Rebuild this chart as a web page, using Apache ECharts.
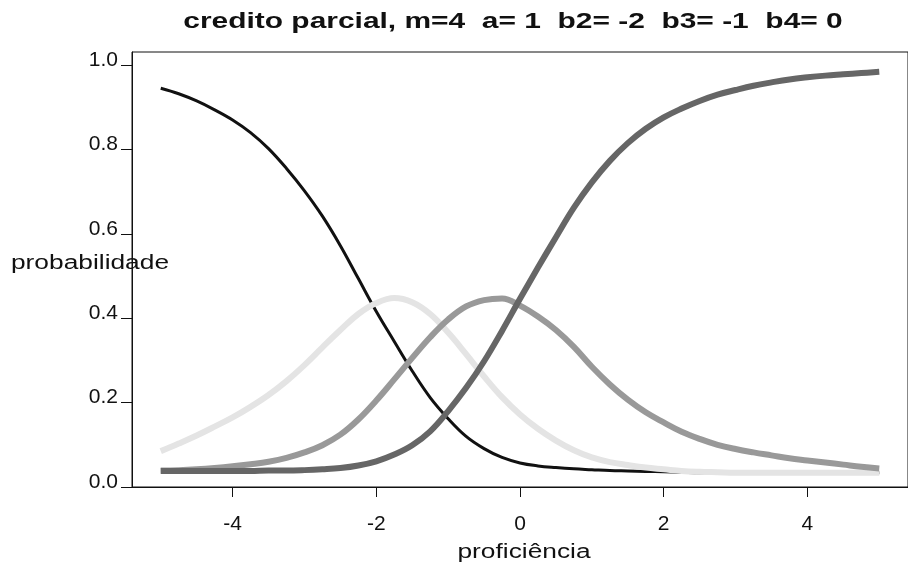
<!DOCTYPE html>
<html>
<head>
<meta charset="utf-8">
<script src="https://cdn.jsdelivr.net/npm/echarts@6/dist/echarts.min.js"></script>
<style>
    html, body { margin: 0; padding: 0; background: #fff; }
    #chart { width: 908px; height: 565px; }
</style>
</head>
<body>
<div id="chart"></div>
<script>
    // proficiencia (theta), passo 0.25
    const theta = [-5, -4.75, -4.5, -4.25, -4, -3.75, -3.5, -3.25, -3, -2.75, -2.5, -2.25, -2, -1.75, -1.5, -1.25, -1, -0.75, -0.5, -0.25,
        0, 0.25, 0.5, 0.75, 1, 1.25, 1.5, 1.75, 2, 2.25, 2.5, 2.75, 3, 3.25, 3.5, 3.75, 4, 4.25, 4.5, 4.75, 5];
    // categoria 1..4
    const cat1 = [0.945, 0.932, 0.915, 0.894, 0.870, 0.840, 0.802, 0.755, 0.702, 0.642, 0.572, 0.494, 0.416, 0.345, 0.275, 0.212, 0.162, 0.120, 0.091, 0.070,
        0.057, 0.050, 0.046, 0.043, 0.041, 0.039, 0.038, 0.037, 0.036, 0.035, 0.034, 0.034, 0.034, 0.034, 0.034, 0.034, 0.034, 0.034, 0.034, 0.034, 0.034];
    const cat2 = [0.085, 0.103, 0.122, 0.143, 0.165, 0.190, 0.218, 0.251, 0.289, 0.331, 0.372, 0.410, 0.436, 0.448, 0.438, 0.410, 0.366, 0.315, 0.262, 0.213,
        0.172, 0.138, 0.110, 0.087, 0.070, 0.059, 0.052, 0.046, 0.042, 0.038, 0.036, 0.035, 0.034, 0.034, 0.034, 0.034, 0.034, 0.034, 0.034, 0.034, 0.034];
    const cat3 = [0.039, 0.040, 0.042, 0.045, 0.049, 0.054, 0.060, 0.069, 0.082, 0.099, 0.124, 0.160, 0.205, 0.255, 0.306, 0.355, 0.397, 0.428, 0.443, 0.447,
        0.430, 0.404, 0.372, 0.332, 0.285, 0.243, 0.207, 0.177, 0.153, 0.131, 0.114, 0.100, 0.090, 0.082, 0.075, 0.068, 0.063, 0.058, 0.053, 0.048, 0.044];
    const cat4 = [0.038, 0.038, 0.038, 0.038, 0.038, 0.038, 0.039, 0.039, 0.040, 0.042, 0.045, 0.051, 0.061, 0.077, 0.099, 0.132, 0.180, 0.235, 0.298, 0.370,
        0.446, 0.520, 0.592, 0.662, 0.722, 0.773, 0.815, 0.849, 0.876, 0.897, 0.915, 0.930, 0.941, 0.951, 0.959, 0.966, 0.971, 0.975, 0.978, 0.981, 0.984];
    const xTicks = [-4, -2, 0, 2, 4];
    const yTicks = [0, 0.2, 0.4, 0.6, 0.8, 1.0];

    const titleText = 'credito parcial, m=4  a= 1  b2= -2  b3= -1  b4= 0';
    const font = 'Liberation Sans, Arial, sans-serif';

    const chart = echarts.init(document.getElementById('chart'));

    function toPairs(vals) {
        return theta.map((t, i) => [t, vals[i]]);
    }

    function curve(vals, color, width) {
        return {
            type: 'line',
            data: toPairs(vals),
            showSymbol: false,
            smooth: 0.4,
            lineStyle: { color: color, width: width, cap: 'butt' }
        };
    }

    const option = {
        animation: false,
        backgroundColor: '#fff',
        grid: {
            left: 132, top: 52, right: -4, bottom: 78,
            show: true, borderColor: '#111', borderWidth: 1
        },
        xAxis: {
            type: 'value',
            min: -5.4,
            max: 5.4,
            axisLine: { lineStyle: { color: '#111', width: 1 } },
            axisTick: { customValues: xTicks, length: 10, lineStyle: { color: '#111' } },
            axisLabel: {
                customValues: xTicks, margin: 27, fontSize: 21,
                fontFamily: font, color: '#111'
            },
            splitLine: { show: false }
        },
        yAxis: {
            type: 'value',
            min: 0,
            max: 1.031,
            axisLine: { show: true, onZero: false, lineStyle: { color: '#111', width: 1 } },
            axisTick: { show: true, customValues: yTicks, length: 11, lineStyle: { color: '#111' } },
            axisLabel: {
                customValues: yTicks, margin: 14, fontSize: 21,
                fontFamily: font, color: '#111',
                verticalAlign: 'bottom', lineHeight: 10,
                formatter: v => v.toFixed(1)
            },
            splitLine: { show: false }
        },
        graphic: [
            {
                type: 'text', x: 513, y: 22, scaleX: 1.36,
                style: {
                    text: titleText, fill: '#111', align: 'center', verticalAlign: 'middle',
                    font: 'bold 22px ' + font
                }
            },
            {
                type: 'text', x: 90, y: 264, scaleX: 1.35,
                style: {
                    text: 'probabilidade', fill: '#111', align: 'center', verticalAlign: 'middle',
                    font: '19.5px ' + font
                }
            },
            {
                type: 'text', x: 524, y: 553, scaleX: 1.35,
                style: {
                    text: 'proficiência', fill: '#111', align: 'center', verticalAlign: 'middle',
                    font: '19.5px ' + font
                }
            }
        ],
        series: [
            curve(cat1, '#111111', 3),
            curve(cat2, '#e4e4e4', 6),
            curve(cat3, '#999999', 6),
            curve(cat4, '#666666', 6)
        ]
    };

    chart.setOption(option);
</script>
</body>
</html>
